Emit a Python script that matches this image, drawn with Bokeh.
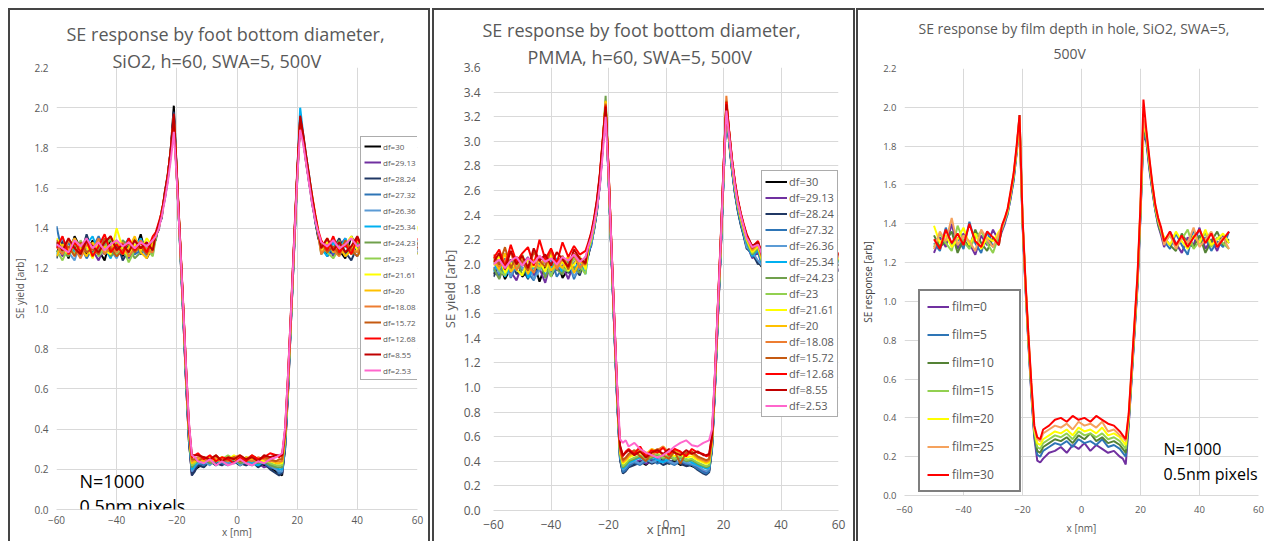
from bokeh.plotting import figure
from bokeh.layouts import row, column
from bokeh.models import (Range1d, FixedTicker, PrintfTickFormatter, Label, Legend, LegendItem,
                          Title, Spacer)
from bokeh.embed import file_html
from bokeh.resources import INLINE

FONT = "Open Sans"
GRAY = "#595959"

# ---------------- x grids (nm), five segments each ----------------
X1 = [list(range(-60, -27, 2)), list(range(-27, -13)), list(range(-13, 14, 2)),
      list(range(14, 28)), list(range(28, 61, 2))]
X3 = [list(range(-50, -27, 2)), list(range(-27, -13)), list(range(-13, 14, 2)),
      list(range(14, 28)), list(range(28, 51, 2))]

# ---------------- panel 1: SiO2, foot bottom diameter ----------------
p1_labels = ["df=30", "df=29.13", "df=28.24", "df=27.32", "df=26.36", "df=25.34", "df=24.23",
             "df=23", "df=21.61", "df=20", "df=18.08", "df=15.72", "df=12.68", "df=8.55", "df=2.53"]
p1_df30 = [
    [1.28,1.33,1.25,1.36,1.30,1.27,1.34,1.29,1.24,1.35,1.31,1.26,1.33,1.28,1.37,1.25,1.31],
    [1.35,1.41,1.46,1.57,1.66,1.80,2.01,1.68,1.33,1.00,0.66,0.34,0.18,0.20],
    [0.21,0.23,0.24,0.22,0.25,0.23,0.24,0.22,0.24,0.23,0.25,0.22,0.21,0.19],
    [0.18,0.17,0.31,0.60,0.95,1.30,1.66,1.93,1.85,1.72,1.63,1.52,1.44,1.35],
    [1.31,1.27,1.34,1.29,1.25,1.36,1.30,1.28,1.33,1.26,1.32,1.29,1.35,1.27,1.30,1.24,1.33]]
p1_df2913 = [
    [1.32,1.26,1.30,1.35,1.27,1.33,1.29,1.24,1.31,1.36,1.28,1.33,1.25,1.30,1.34,1.29,1.27],
    [1.37,1.39,1.48,1.55,1.64,1.78,1.96,1.65,1.35,1.03,0.67,0.36,0.17,0.21],
    [0.22,0.24,0.23,0.25,0.22,0.24,0.23,0.25,0.22,0.24,0.23,0.21,0.22,0.20],
    [0.19,0.18,0.32,0.61,0.97,1.31,1.64,1.95,1.83,1.73,1.65,1.53,1.46,1.37],
    [1.28,1.33,1.26,1.31,1.35,1.27,1.30,1.34,1.25,1.31,1.28,1.36,1.29,1.26,1.33,1.30,1.28]]
p1_df2824 = [
    [1.25,1.34,1.29,1.31,1.26,1.37,1.28,1.32,1.27,1.30,1.34,1.24,1.29,1.35,1.27,1.31,1.33],
    [1.34,1.42,1.45,1.58,1.67,1.79,1.98,1.67,1.34,1.01,0.65,0.35,0.17,0.19],
    [0.22,0.21,0.24,0.23,0.22,0.25,0.24,0.23,0.22,0.24,0.21,0.23,0.20,0.18],
    [0.17,0.18,0.30,0.59,0.96,1.29,1.63,1.94,1.86,1.74,1.62,1.55,1.43,1.36],
    [1.33,1.26,1.30,1.35,1.28,1.24,1.31,1.29,1.36,1.27,1.30,1.25,1.32,1.34,1.26,1.31,1.29]]
p1_df2732 = [
    [1.41,1.27,1.33,1.28,1.31,1.25,1.30,1.36,1.29,1.26,1.32,1.30,1.35,1.27,1.29,1.33,1.28],
    [1.36,1.40,1.49,1.54,1.65,1.77,1.97,1.66,1.36,1.02,0.67,0.37,0.19,0.21],
    [0.23,0.22,0.25,0.24,0.23,0.22,0.25,0.24,0.23,0.22,0.24,0.23,0.21,0.20],
    [0.18,0.19,0.32,0.62,0.97,1.32,1.66,1.96,1.84,1.75,1.64,1.53,1.45,1.38],
    [1.29,1.34,1.27,1.32,1.26,1.30,1.35,1.28,1.31,1.24,1.33,1.29,1.27,1.32,1.36,1.28,1.30]]
p1_df2636 = [
    [1.30,1.35,1.28,1.24,1.33,1.30,1.27,1.31,1.35,1.29,1.25,1.32,1.28,1.34,1.30,1.26,1.32],
    [1.37,1.41,1.47,1.56,1.66,1.78,1.95,1.65,1.35,1.03,0.68,0.37,0.19,0.22],
    [0.23,0.24,0.22,0.25,0.24,0.23,0.25,0.22,0.24,0.23,0.25,0.24,0.22,0.20],
    [0.19,0.19,0.33,0.61,0.96,1.31,1.65,1.95,1.85,1.73,1.63,1.54,1.44,1.37],
    [1.32,1.28,1.35,1.27,1.31,1.29,1.26,1.33,1.30,1.36,1.27,1.31,1.28,1.25,1.32,1.35,1.27]]
p1_df2534 = [
    [1.27,1.31,1.34,1.29,1.26,1.32,1.36,1.28,1.30,1.25,1.33,1.29,1.27,1.31,1.35,1.28,1.30],
    [1.38,1.40,1.48,1.57,1.64,1.79,1.96,1.66,1.34,1.02,0.69,0.38,0.20,0.22],
    [0.24,0.23,0.25,0.22,0.24,0.25,0.23,0.24,0.25,0.23,0.22,0.24,0.23,0.21],
    [0.20,0.20,0.34,0.63,0.98,1.33,1.67,2.00,1.87,1.76,1.66,1.56,1.46,1.38],
    [1.30,1.26,1.33,1.29,1.35,1.28,1.32,1.25,1.30,1.34,1.29,1.27,1.33,1.30,1.26,1.31,1.34]]
p1_df2423 = [
    [1.33,1.28,1.26,1.32,1.29,1.35,1.27,1.30,1.33,1.26,1.29,1.34,1.31,1.25,1.28,1.32,1.29],
    [1.36,1.41,1.49,1.55,1.66,1.77,1.94,1.65,1.36,1.03,0.69,0.38,0.21,0.23],
    [0.24,0.25,0.23,0.24,0.26,0.24,0.25,0.23,0.24,0.25,0.23,0.24,0.22,0.21],
    [0.21,0.21,0.35,0.63,0.97,1.32,1.66,1.93,1.84,1.74,1.64,1.55,1.45,1.37],
    [1.27,1.31,1.29,1.34,1.26,1.30,1.33,1.28,1.25,1.32,1.30,1.35,1.27,1.29,1.33,1.26,1.31]]
p1_df23 = [
    [1.29,1.24,1.31,1.27,1.34,1.28,1.32,1.26,1.30,1.35,1.27,1.31,1.23,1.29,1.33,1.30,1.26],
    [1.35,1.42,1.46,1.56,1.67,1.78,1.95,1.66,1.35,1.04,0.70,0.39,0.22,0.23],
    [0.25,0.24,0.26,0.24,0.25,0.27,0.25,0.24,0.26,0.25,0.24,0.25,0.23,0.22],
    [0.22,0.22,0.36,0.64,0.98,1.32,1.65,1.94,1.85,1.75,1.65,1.54,1.46,1.38],
    [1.31,1.28,1.25,1.30,1.33,1.27,1.29,1.34,1.30,1.26,1.31,1.28,1.24,1.33,1.29,1.32,1.27]]
p1_df2161 = [
    [1.35,1.30,1.27,1.33,1.28,1.31,1.25,1.34,1.29,1.27,1.40,1.30,1.26,1.32,1.29,1.35,1.31],
    [1.37,1.40,1.48,1.57,1.65,1.79,1.94,1.67,1.36,1.03,0.70,0.40,0.23,0.24],
    [0.25,0.26,0.24,0.25,0.26,0.25,0.27,0.24,0.25,0.26,0.25,0.24,0.24,0.23],
    [0.23,0.23,0.36,0.64,0.99,1.33,1.66,1.93,1.84,1.74,1.65,1.56,1.47,1.39],
    [1.28,1.33,1.30,1.27,1.32,1.36,1.29,1.25,1.31,1.28,1.34,1.30,1.27,1.31,1.25,1.30,1.41]]
p1_df20 = [
    [1.26,1.32,1.29,1.35,1.30,1.26,1.33,1.28,1.31,1.29,1.34,1.27,1.30,1.36,1.28,1.25,1.32],
    [1.36,1.41,1.47,1.56,1.66,1.78,1.95,1.66,1.35,1.04,0.71,0.40,0.23,0.24],
    [0.25,0.24,0.26,0.25,0.24,0.26,0.25,0.24,0.26,0.25,0.24,0.26,0.25,0.23],
    [0.23,0.24,0.37,0.65,0.98,1.32,1.65,1.94,1.85,1.73,1.64,1.55,1.46,1.38],
    [1.30,1.35,1.28,1.31,1.26,1.29,1.34,1.31,1.27,1.33,1.29,1.26,1.32,1.35,1.28,1.31,1.27]]
p1_df1808 = [
    [1.31,1.27,1.34,1.30,1.25,1.32,1.29,1.35,1.27,1.31,1.28,1.33,1.26,1.30,1.34,1.29,1.28],
    [1.37,1.42,1.48,1.57,1.65,1.77,1.93,1.65,1.36,1.05,0.71,0.41,0.24,0.25],
    [0.26,0.25,0.24,0.26,0.25,0.24,0.26,0.27,0.25,0.24,0.26,0.25,0.24,0.24],
    [0.24,0.24,0.38,0.66,0.99,1.33,1.66,1.92,1.84,1.74,1.63,1.55,1.46,1.37],
    [1.27,1.32,1.29,1.26,1.33,1.30,1.28,1.35,1.27,1.31,1.29,1.34,1.26,1.30,1.32,1.28,1.33]]
p1_df1572 = [
    [1.34,1.29,1.31,1.26,1.33,1.28,1.30,1.27,1.35,1.30,1.26,1.29,1.33,1.28,1.31,1.27,1.35],
    [1.36,1.40,1.49,1.55,1.66,1.78,1.94,1.66,1.36,1.05,0.72,0.41,0.25,0.25],
    [0.24,0.26,0.25,0.27,0.24,0.25,0.26,0.24,0.25,0.27,0.25,0.26,0.25,0.24],
    [0.25,0.25,0.38,0.66,0.99,1.33,1.67,1.93,1.85,1.75,1.64,1.54,1.45,1.38],
    [1.33,1.28,1.31,1.27,1.34,1.29,1.26,1.32,1.30,1.27,1.35,1.28,1.31,1.29,1.25,1.33,1.30]]
p1_df1268 = [
    [1.30,1.36,1.27,1.33,1.28,1.34,1.26,1.31,1.37,1.28,1.32,1.27,1.35,1.29,1.33,1.28,1.36],
    [1.38,1.43,1.48,1.57,1.67,1.79,1.96,1.67,1.37,1.05,0.72,0.42,0.26,0.27],
    [0.28,0.25,0.27,0.24,0.26,0.25,0.23,0.26,0.24,0.27,0.25,0.26,0.28,0.27],
    [0.26,0.27,0.39,0.67,1.00,1.34,1.67,1.95,1.86,1.75,1.65,1.56,1.47,1.39],
    [1.34,1.29,1.36,1.28,1.32,1.27,1.35,1.30,1.33,1.28,1.36,1.29,1.33,1.27,1.34,1.30,1.35]]
p1_df855 = [
    [1.33,1.29,1.35,1.30,1.27,1.34,1.31,1.28,1.33,1.36,1.29,1.32,1.28,1.34,1.30,1.33,1.29],
    [1.37,1.42,1.47,1.58,1.66,1.80,1.97,1.68,1.37,1.06,0.73,0.43,0.27,0.27],
    [0.27,0.26,0.25,0.27,0.24,0.26,0.25,0.27,0.25,0.26,0.24,0.27,0.26,0.27],
    [0.27,0.27,0.40,0.68,1.01,1.35,1.68,1.96,1.87,1.76,1.66,1.55,1.46,1.38],
    [1.30,1.35,1.29,1.33,1.28,1.31,1.36,1.29,1.32,1.27,1.34,1.31,1.28,1.35,1.29,1.32,1.30]]
p1_df253 = [
    [1.32,1.30,1.28,1.34,1.31,1.35,1.30,1.33,1.29,1.32,1.34,1.31,1.33,1.30,1.33,1.31,1.34],
    [1.36,1.40,1.46,1.54,1.63,1.74,1.88,1.64,1.35,1.05,0.73,0.44,0.27,0.26],
    [0.24,0.23,0.25,0.22,0.24,0.22,0.23,0.25,0.23,0.22,0.24,0.23,0.25,0.26],
    [0.27,0.28,0.41,0.68,1.00,1.33,1.64,1.89,1.82,1.72,1.62,1.52,1.44,1.38],
    [1.33,1.31,1.34,1.30,1.32,1.35,1.31,1.33,1.29,1.32,1.30,1.34,1.31,1.33,1.30,1.32,1.31]]
p1_series = [p1_df30, p1_df2913, p1_df2824, p1_df2732, p1_df2636, p1_df2534, p1_df2423,
             p1_df23, p1_df2161, p1_df20, p1_df1808, p1_df1572, p1_df1268, p1_df855, p1_df253]

# ---------------- panel 2: PMMA, foot bottom diameter ----------------
p2_labels = list(p1_labels)
p2_df30 = [
    [1.92,2.01,1.88,1.97,2.05,1.90,1.95,2.02,1.86,1.99,1.93,2.04,1.89,1.96,2.08,1.94,2.03],
    [2.08,2.17,2.28,2.44,2.66,2.96,3.31,2.72,2.08,1.48,0.90,0.42,0.31,0.33],
    [0.36,0.38,0.40,0.37,0.41,0.39,0.42,0.38,0.40,0.37,0.39,0.36,0.34,0.31],
    [0.30,0.32,0.50,0.98,1.54,2.08,2.69,3.27,2.99,2.76,2.58,2.44,2.33,2.24],
    [2.15,2.08,2.02,1.96,2.04,1.91,1.99,2.05,1.93,2.00,1.95,2.03,1.90,1.98,2.02,1.94,2.00]]
p2_df2913 = [
    [1.98,1.89,2.03,1.94,1.87,2.00,2.06,1.91,1.97,1.85,2.02,1.95,1.99,1.88,2.01,2.06,1.96],
    [2.10,2.15,2.30,2.46,2.64,2.94,3.29,2.70,2.10,1.50,0.92,0.44,0.32,0.34],
    [0.37,0.39,0.41,0.38,0.40,0.42,0.39,0.41,0.38,0.40,0.37,0.38,0.35,0.32],
    [0.31,0.33,0.52,0.99,1.55,2.10,2.70,3.28,3.00,2.77,2.59,2.45,2.34,2.25],
    [2.17,2.05,2.10,1.94,1.99,2.06,1.92,1.97,2.03,1.89,2.01,1.96,2.04,1.92,1.98,2.05,1.95]]
p2_df2824 = [
    [1.90,1.99,1.95,2.04,1.92,1.97,1.88,2.03,1.96,2.07,1.90,1.98,2.02,1.93,1.97,1.91,2.05],
    [2.07,2.19,2.29,2.43,2.67,2.97,3.32,2.73,2.09,1.47,0.89,0.41,0.30,0.32],
    [0.35,0.37,0.39,0.41,0.38,0.40,0.37,0.39,0.41,0.38,0.36,0.37,0.33,0.30],
    [0.29,0.31,0.49,0.97,1.53,2.07,2.68,3.26,2.98,2.75,2.57,2.43,2.32,2.23],
    [2.13,2.09,2.00,2.05,1.93,1.98,2.03,1.90,1.96,2.04,1.92,1.99,2.05,1.93,1.97,2.01,1.94]]
p2_df2732 = [
    [1.96,1.91,2.05,1.89,1.99,2.03,1.93,1.87,2.00,1.94,2.06,1.90,1.97,2.03,1.88,1.99,2.01],
    [2.09,2.16,2.31,2.45,2.65,2.95,3.30,2.71,2.09,1.49,0.91,0.43,0.31,0.33],
    [0.36,0.39,0.37,0.40,0.42,0.38,0.41,0.39,0.37,0.40,0.38,0.37,0.34,0.31],
    [0.30,0.32,0.51,0.98,1.55,2.09,2.69,3.27,2.99,2.76,2.58,2.44,2.33,2.24],
    [2.16,2.06,2.11,1.95,2.02,1.90,2.00,1.96,2.05,1.91,1.98,2.03,1.94,2.00,1.89,1.97,2.04]]
p2_df2636 = [
    [2.02,1.93,1.98,1.90,2.04,1.96,2.00,1.88,1.95,2.03,1.92,2.00,1.94,2.05,1.90,1.97,1.99],
    [2.11,2.17,2.29,2.47,2.66,2.95,3.30,2.72,2.10,1.50,0.92,0.44,0.33,0.35],
    [0.38,0.40,0.38,0.42,0.39,0.41,0.43,0.40,0.38,0.41,0.39,0.38,0.36,0.33],
    [0.32,0.34,0.52,1.00,1.56,2.10,2.70,3.28,3.01,2.78,2.60,2.46,2.35,2.26],
    [2.14,2.10,2.03,1.97,2.05,1.93,1.99,2.04,1.91,1.98,2.02,1.95,2.03,1.90,1.99,1.96,2.02]]
p2_df2534 = [
    [1.94,2.04,1.90,1.99,1.95,2.07,1.89,1.98,2.02,1.91,1.97,2.05,1.93,1.99,1.96,2.03,1.92],
    [2.10,2.18,2.31,2.45,2.67,2.97,3.31,2.73,2.11,1.51,0.93,0.45,0.34,0.36],
    [0.39,0.41,0.43,0.40,0.44,0.41,0.39,0.42,0.44,0.40,0.42,0.39,0.37,0.35],
    [0.34,0.35,0.53,1.01,1.57,2.11,2.71,3.29,3.02,2.78,2.60,2.47,2.36,2.27],
    [2.18,2.07,2.12,1.96,2.03,1.92,2.00,1.97,2.06,1.93,1.99,2.04,1.95,2.01,1.92,1.98,2.03]]
p2_df2423 = [
    [1.97,1.88,2.02,1.95,2.06,1.91,1.99,1.94,2.04,1.89,2.01,1.96,1.92,2.04,1.98,1.93,2.06],
    [2.11,2.20,2.32,2.46,2.68,2.99,3.37,2.74,2.11,1.51,0.94,0.46,0.35,0.37],
    [0.40,0.42,0.44,0.41,0.43,0.45,0.42,0.44,0.41,0.43,0.40,0.41,0.38,0.36],
    [0.35,0.36,0.54,1.02,1.58,2.12,2.72,3.30,3.02,2.79,2.61,2.47,2.36,2.27],
    [2.19,2.08,2.13,1.98,2.04,1.93,2.01,1.96,2.06,1.92,2.00,2.05,1.94,2.02,1.97,1.93,2.04]]
p2_df23 = [
    [2.05,1.95,1.91,2.02,1.97,2.08,1.93,2.00,1.96,2.04,1.90,2.03,1.97,1.94,2.05,1.99,1.92],
    [2.12,2.19,2.31,2.47,2.67,2.98,3.33,2.74,2.12,1.52,0.95,0.47,0.36,0.38],
    [0.41,0.43,0.45,0.42,0.44,0.46,0.43,0.45,0.42,0.44,0.41,0.42,0.39,0.37],
    [0.36,0.37,0.55,1.03,1.59,2.13,2.73,3.31,3.03,2.80,2.62,2.48,2.37,2.28],
    [2.20,2.09,2.14,1.97,2.05,1.94,2.02,1.98,2.07,1.93,2.01,2.06,1.95,2.03,1.98,1.94,2.05]]
p2_df2161 = [
    [1.99,2.07,1.93,2.01,1.96,1.91,2.05,1.98,2.03,1.94,2.08,1.97,2.02,1.95,2.00,2.06,1.96],
    [2.13,2.21,2.33,2.48,2.69,2.98,3.32,2.75,2.13,1.53,0.96,0.48,0.38,0.40],
    [0.43,0.45,0.47,0.44,0.46,0.48,0.45,0.47,0.44,0.46,0.43,0.44,0.41,0.39],
    [0.38,0.39,0.56,1.04,1.60,2.14,2.74,3.31,3.04,2.81,2.63,2.49,2.38,2.29],
    [2.21,2.10,2.15,1.99,2.06,1.95,2.03,1.99,2.08,1.94,2.02,2.07,1.96,2.04,1.99,1.95,2.06]]
p2_df20 = [
    [2.03,1.96,2.09,1.94,2.00,2.05,1.92,2.04,1.98,2.06,1.95,2.01,1.97,2.07,1.93,2.02,1.99],
    [2.14,2.22,2.34,2.49,2.70,2.99,3.33,2.76,2.14,1.54,0.97,0.49,0.39,0.41],
    [0.44,0.47,0.49,0.46,0.50,0.48,0.52,0.47,0.49,0.46,0.45,0.46,0.42,0.40],
    [0.39,0.40,0.57,1.05,1.61,2.15,2.75,3.32,3.05,2.82,2.64,2.50,2.39,2.30],
    [2.22,2.11,2.16,2.00,2.07,1.96,2.04,2.00,2.09,1.95,2.03,2.08,1.97,2.05,2.00,1.96,2.07]]
p2_df1808 = [
    [2.06,1.98,2.03,2.10,1.95,2.04,1.99,1.93,2.07,2.01,2.11,1.96,2.05,1.99,2.08,1.97,2.03],
    [2.15,2.23,2.35,2.50,2.71,3.00,3.31,2.77,2.15,1.55,0.98,0.50,0.40,0.42],
    [0.45,0.48,0.50,0.47,0.44,0.49,0.52,0.46,0.50,0.47,0.46,0.47,0.43,0.41],
    [0.40,0.41,0.58,1.06,1.62,2.16,2.76,3.37,3.06,2.83,2.65,2.51,2.40,2.31],
    [2.23,2.12,2.17,2.01,2.08,1.97,2.05,2.01,2.10,1.96,2.04,2.09,1.98,2.06,2.01,1.97,2.08]]
p2_df1572 = [
    [2.08,2.00,2.14,1.97,2.06,2.02,1.95,2.10,2.03,1.98,2.12,2.01,2.07,1.96,2.09,2.04,2.00],
    [2.16,2.24,2.36,2.51,2.72,3.01,3.30,2.78,2.16,1.56,0.99,0.51,0.41,0.43],
    [0.46,0.49,0.44,0.40,0.47,0.50,0.45,0.42,0.48,0.38,0.47,0.48,0.44,0.42],
    [0.41,0.42,0.59,1.07,1.63,2.17,2.77,3.33,3.07,2.84,2.66,2.52,2.41,2.32],
    [2.24,2.13,2.18,2.02,2.09,1.98,2.06,2.02,2.11,1.97,2.05,2.10,1.99,2.07,2.02,1.98,2.09]]
p2_df1268 = [
    [2.05,2.12,1.98,2.16,2.02,2.09,2.14,1.99,2.20,2.04,2.13,2.01,2.18,2.06,2.15,2.08,2.11],
    [2.18,2.26,2.38,2.53,2.74,3.02,3.29,2.79,2.17,1.57,1.00,0.52,0.44,0.48],
    [0.50,0.46,0.52,0.44,0.49,0.47,0.51,0.45,0.50,0.48,0.44,0.50,0.47,0.46],
    [0.44,0.45,0.60,1.08,1.64,2.18,2.78,3.32,3.08,2.85,2.67,2.53,2.42,2.33],
    [2.25,2.14,2.19,2.03,2.10,1.99,2.07,2.03,2.12,1.98,2.06,2.11,2.00,2.08,2.03,1.99,2.10]]
p2_df855 = [
    [2.02,2.09,1.96,2.11,2.00,2.07,1.97,2.13,2.03,2.08,1.99,2.10,2.04,1.98,2.12,2.05,2.01],
    [2.17,2.25,2.37,2.52,2.73,3.00,3.28,2.78,2.17,1.57,1.00,0.53,0.45,0.47],
    [0.49,0.45,0.48,0.43,0.47,0.49,0.46,0.50,0.47,0.45,0.49,0.46,0.48,0.45],
    [0.45,0.46,0.61,1.09,1.65,2.19,2.79,3.30,3.07,2.84,2.66,2.52,2.41,2.32],
    [2.24,2.15,2.18,2.04,2.09,2.00,2.06,2.04,2.11,1.99,2.07,2.10,2.01,2.07,2.04,2.00,2.09]]
p2_df253 = [
    [2.00,2.04,1.97,2.03,2.06,1.99,2.05,2.01,2.07,2.02,2.05,2.00,2.06,2.03,2.08,2.02,2.06],
    [2.15,2.22,2.33,2.46,2.64,2.90,3.20,2.74,2.16,1.58,1.02,0.58,0.55,0.57],
    [0.52,0.55,0.50,0.47,0.45,0.43,0.45,0.48,0.52,0.55,0.57,0.53,0.52,0.55],
    [0.56,0.57,0.66,1.10,1.64,2.16,2.74,3.25,3.04,2.82,2.64,2.50,2.40,2.31],
    [2.22,2.14,2.16,2.05,2.08,2.02,2.06,2.03,2.09,2.01,2.05,2.08,2.02,2.06,2.03,2.01,2.07]]
p2_series = [p2_df30, p2_df2913, p2_df2824, p2_df2732, p2_df2636, p2_df2534, p2_df2423,
             p2_df23, p2_df2161, p2_df20, p2_df1808, p2_df1572, p2_df1268, p2_df855, p2_df253]

# ---------------- panel 3: SiO2, film depth in hole ----------------
p3_labels = ["film=0", "film=5", "film=10", "film=15", "film=20", "film=25", "film=30"]
p3_film0 = [
    [1.25,1.33,1.28,1.40,1.27,1.35,1.30,1.24,1.34,1.29,1.37,1.31],
    [1.36,1.40,1.46,1.53,1.63,1.76,1.92,1.40,1.07,0.78,0.52,0.30,0.18,0.17],
    [0.19,0.22,0.23,0.25,0.22,0.26,0.24,0.27,0.23,0.26,0.24,0.22,0.23,0.20],
    [0.19,0.16,0.36,0.60,0.84,1.08,1.44,1.86,1.82,1.68,1.57,1.47,1.39,1.34],
    [1.28,1.36,1.30,1.25,1.33,1.29,1.38,1.27,1.32,1.26,1.34,1.30]]
p3_film5 = [
    [1.30,1.26,1.38,1.29,1.33,1.27,1.41,1.30,1.25,1.36,1.28,1.33],
    [1.37,1.41,1.45,1.54,1.62,1.77,1.93,1.41,1.08,0.79,0.53,0.31,0.21,0.20],
    [0.23,0.25,0.27,0.26,0.28,0.25,0.29,0.27,0.28,0.26,0.29,0.25,0.26,0.24],
    [0.22,0.20,0.37,0.61,0.85,1.09,1.45,1.88,1.83,1.69,1.58,1.47,1.40,1.35],
    [1.31,1.27,1.35,1.29,1.24,1.37,1.30,1.33,1.26,1.31,1.28,1.36]]
p3_film10 = [
    [1.34,1.28,1.31,1.36,1.25,1.32,1.28,1.37,1.30,1.26,1.33,1.29],
    [1.38,1.42,1.47,1.55,1.64,1.78,1.96,1.42,1.09,0.80,0.54,0.32,0.23,0.22],
    [0.25,0.27,0.29,0.28,0.30,0.27,0.31,0.29,0.32,0.28,0.30,0.27,0.28,0.26],
    [0.24,0.22,0.38,0.62,0.86,1.10,1.46,1.90,1.84,1.70,1.58,1.48,1.40,1.35],
    [1.33,1.29,1.26,1.35,1.30,1.28,1.34,1.25,1.31,1.36,1.29,1.32]]
p3_film15 = [
    [1.28,1.35,1.30,1.26,1.39,1.31,1.27,1.33,1.36,1.30,1.25,1.34],
    [1.37,1.42,1.46,1.55,1.65,1.77,1.94,1.42,1.09,0.80,0.55,0.33,0.25,0.24],
    [0.27,0.29,0.31,0.30,0.32,0.29,0.33,0.31,0.32,0.30,0.32,0.29,0.30,0.28],
    [0.26,0.24,0.39,0.63,0.87,1.11,1.47,1.91,1.86,1.71,1.59,1.48,1.41,1.36],
    [1.30,1.34,1.28,1.32,1.37,1.27,1.31,1.35,1.28,1.33,1.30,1.27]]
p3_film20 = [
    [1.39,1.30,1.34,1.28,1.32,1.38,1.29,1.35,1.27,1.33,1.31,1.36],
    [1.38,1.43,1.47,1.56,1.65,1.78,1.93,1.43,1.10,0.81,0.56,0.34,0.27,0.26],
    [0.29,0.31,0.33,0.32,0.34,0.31,0.35,0.33,0.34,0.32,0.35,0.31,0.32,0.30],
    [0.28,0.26,0.40,0.64,0.88,1.12,1.48,1.92,1.86,1.72,1.60,1.49,1.42,1.37],
    [1.33,1.29,1.36,1.31,1.27,1.34,1.30,1.37,1.29,1.32,1.35,1.30]]
p3_film25 = [
    [1.27,1.36,1.31,1.43,1.29,1.34,1.31,1.26,1.37,1.32,1.28,1.35],
    [1.38,1.42,1.48,1.56,1.66,1.79,1.95,1.43,1.10,0.82,0.57,0.35,0.29,0.28],
    [0.32,0.34,0.36,0.35,0.37,0.34,0.38,0.36,0.37,0.35,0.38,0.33,0.34,0.31],
    [0.30,0.28,0.41,0.65,0.89,1.13,1.49,1.94,1.87,1.73,1.60,1.50,1.42,1.37],
    [1.29,1.35,1.27,1.33,1.30,1.38,1.28,1.32,1.36,1.29,1.33,1.27]]
p3_film30 = [
    [1.32,1.27,1.37,1.30,1.35,1.29,1.40,1.31,1.28,1.36,1.33,1.29],
    [1.39,1.43,1.48,1.57,1.66,1.80,1.96,1.44,1.11,0.83,0.58,0.36,0.30,0.29],
    [0.34,0.36,0.39,0.40,0.38,0.41,0.39,0.40,0.38,0.41,0.39,0.37,0.36,0.33],
    [0.31,0.29,0.42,0.66,0.90,1.14,1.50,2.04,1.88,1.74,1.61,1.50,1.43,1.38],
    [1.31,1.36,1.29,1.34,1.28,1.33,1.37,1.30,1.35,1.28,1.32,1.36]]
p3_series = [p3_film0, p3_film5, p3_film10, p3_film15, p3_film20, p3_film25, p3_film30]

# ---------------- tick values ----------------
x_ticks = [-60, -40, -20, 0, 20, 40, 60]
y_ticks_22 = [round(0.2 * i, 1) for i in range(12)]
y_ticks_36 = [round(0.2 * i, 1) for i in range(19)]

# ---------------- styles ----------------
DF_COLORS = ["#000000", "#7030a0", "#203864", "#2e75b6", "#5b9bd5", "#00b0f0", "#70a04c",
             "#92d050", "#ffff00", "#ffc000", "#ed7d31", "#c55a11", "#ff0000", "#c00000", "#ff66cc"]
FILM_COLORS = ["#7030a0", "#2e75b6", "#548235", "#92d050", "#ffff00", "#f5a25d", "#ff0000"]
EDGE = "#454545"
FIG_H = 531


def assemble(xsegs, ysegs):
    xs, ys = [], []
    for xa, ya in zip(xsegs, ysegs):
        for a, b in zip(xa, ya):
            xs.append(a)
            ys.append(b)
    return xs, ys


def make_fig(w, h, xr, yr, yticks, mbl, mbr, mbt, mbb, tick_size):
    p = figure(width=w, height=h, x_range=Range1d(*xr), y_range=Range1d(*yr),
               output_backend="svg", toolbar_location=None, title=None,
               min_border_left=mbl, min_border_right=mbr, min_border_top=mbt, min_border_bottom=mbb)
    p.outline_line_color = None
    p.background_fill_color = "white"
    p.border_fill_color = "white"
    p.xaxis.ticker = FixedTicker(ticks=x_ticks)
    p.yaxis.ticker = FixedTicker(ticks=yticks)
    p.yaxis.formatter = PrintfTickFormatter(format="%.1f")
    for ax in (p.xaxis[0], p.yaxis[0]):
        ax.major_tick_line_color = None
        ax.minor_tick_line_color = None
        ax.major_tick_out = 0
        ax.major_tick_in = 0
        ax.minor_tick_out = 0
        ax.minor_tick_in = 0
        ax.major_label_text_font = FONT
        ax.major_label_text_font_size = tick_size
        ax.major_label_text_color = GRAY
        ax.axis_label_text_font = FONT
        ax.axis_label_text_color = GRAY
        ax.axis_label_text_font_style = "normal"
    p.xaxis.axis_line_color = "#d9d9d9"
    p.yaxis.axis_line_color = None
    for g in (p.xgrid[0], p.ygrid[0]):
        g.grid_line_color = "#d9d9d9"
        g.grid_line_width = 1
    p.xgrid.ticker = FixedTicker(ticks=x_ticks)
    p.ygrid.ticker = FixedTicker(ticks=yticks)
    return p


def add_titles(p, lines, size, offsets, standoffs):
    # the first title added sits nearest to the plot frame
    for text, off, so in reversed(list(zip(lines, offsets, standoffs))):
        p.add_layout(Title(text=text, align="left", offset=off, standoff=so,
                           text_font=FONT, text_font_size=size, text_color=GRAY,
                           text_font_style="normal"), "above")


def add_label(p, x, y, text, size, color="black"):
    p.add_layout(Label(x=x, y=y, x_units="screen", y_units="screen", text=text,
                       text_font=FONT, text_font_size=size, text_color=color,
                       text_align="left", text_baseline="alphabetic"))


def add_series(p, xsegs, series, labels, colors, lw):
    items = []
    for ys, lab, col in zip(series, labels, colors):
        xx, yy = assemble(xsegs, ys)
        r = p.line(xx, yy, line_color=col, line_width=lw)
        items.append(LegendItem(label=lab, renderers=[r]))
    return items


def vbar(w=2, color=EDGE):
    return Spacer(width=w, height=FIG_H + 2, styles={"background-color": color})


def hbar(w):
    return Spacer(width=w, height=2, styles={"background-color": EDGE})


# ---------------- panel 1 ----------------
p1 = make_fig(418, FIG_H, (-60, 60), (0, 2.2), y_ticks_22, 42, 11, 57, 32, "10px")
p1.yaxis.axis_label = "SE yield [arb]"
p1.yaxis.axis_label_text_font_size = "10px"
p1.yaxis.major_label_standoff = 8
p1.yaxis.axis_label_standoff = 4
p1.xaxis.axis_label = "x [nm]"
p1.xaxis.axis_label_text_font_size = "10px"
p1.xaxis.major_label_standoff = 6
p1.xaxis.axis_label_standoff = -2
items1 = add_series(p1, X1, p1_series, p1_labels, DF_COLORS, 2)
leg1 = Legend(items=items1, location=(304, 129), label_text_font=FONT, label_text_font_size="8px",
              label_text_color=GRAY, glyph_width=17, glyph_height=12, label_height=12,
              label_standoff=2, spacing=4, padding=3, margin=0,
              border_line_color=GRAY, border_line_width=1, background_fill_color="white",
              background_fill_alpha=1)
p1.add_layout(leg1)
add_titles(p1, ["SE response by foot bottom diameter,", "SiO2, h=60, SWA=5, 500V"], "18px",
           [10, 56], [14, -11])
add_label(p1, 23, 29, "N=1000", "18px")
add_label(p1, 23, 4, "0.5nm pixels", "18px")

# ---------------- panel 2 ----------------
p2 = make_fig(419, FIG_H, (-60, 60), (0, 3.6), y_ticks_36, 59, 15, 57, 31, "12px")
p2.yaxis.axis_label = "SE yield [arb]"
p2.yaxis.axis_label_text_font_size = "13px"
p2.yaxis.major_label_standoff = 13
p2.yaxis.axis_label_standoff = 2
p2.xaxis.axis_label = "x [nm]"
p2.xaxis.axis_label_text_font_size = "13px"
p2.xaxis.major_label_standoff = 9
p2.xaxis.axis_label_standoff = -12
items2 = add_series(p2, X1, p2_series, p2_labels, DF_COLORS, 2)
leg2 = Legend(items=items2, location=(268, 93), label_text_font=FONT, label_text_font_size="11px",
              label_text_color=GRAY, glyph_width=22, glyph_height=13, label_height=13,
              label_standoff=2, spacing=1, padding=3, margin=0,
              border_line_color=GRAY, border_line_width=1, background_fill_color="white",
              background_fill_alpha=1)
p2.add_layout(leg2)
add_titles(p2, ["SE response by foot bottom diameter,", "PMMA, h=60, SWA=5, 500V"], "18px",
           [-11, 34], [3, -2])

# ---------------- panel 3 ----------------
p3 = make_fig(406, FIG_H, (-60, 60), (0, 2.2), y_ticks_22, 45, 6, 58, 46, "9.5px")
p3.yaxis.axis_label = "SE response [arb]"
p3.yaxis.axis_label_text_font_size = "10px"
p3.yaxis.axis_label_text_color = "#404040"
p3.yaxis.major_label_standoff = 8
p3.yaxis.axis_label_standoff = 5
p3.xaxis.axis_label = "x [nm]"
p3.xaxis.axis_label_text_font_size = "10px"
p3.xaxis.major_label_standoff = 10
p3.xaxis.axis_label_standoff = 5
items3 = add_series(p3, X3, p3_series, p3_labels, FILM_COLORS, 2)
leg3 = Legend(items=items3, location=(14, 3), label_text_font=FONT, label_text_font_size="12px",
              label_text_color=GRAY, glyph_width=22, glyph_height=17, label_height=17,
              label_width=60, label_standoff=3, spacing=11, padding=7, margin=0,
              border_line_color="black", border_line_width=2.5, background_fill_color="white",
              background_fill_alpha=1)
p3.add_layout(leg3)
add_titles(p3, ["SE response by film depth in hole, SiO2, SWA=5,", "500V"], "14px",
           [14, 149], [-4, 12])
add_label(p3, 259, 47, "N=1000", "16px")
add_label(p3, 259, 22, "0.5nm pixels", "16px")

panels = row(
    vbar(), column(hbar(418), p1), vbar(),
    vbar(2, "white"),
    vbar(), column(hbar(419), p2), vbar(),
    vbar(1, "white"),
    vbar(), column(hbar(406), p3),
)
layout = column(Spacer(width=8, height=8), row(Spacer(width=8, height=8), panels))
open("out.html", "w").write(file_html(layout, INLINE))
